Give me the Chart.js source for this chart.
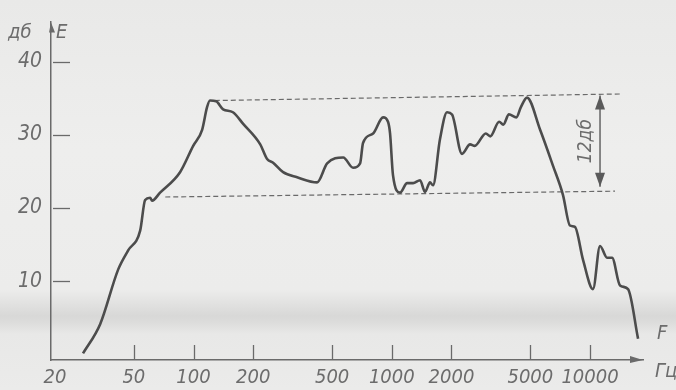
<!DOCTYPE html>
<html>
<head>
<meta charset="utf-8">
<script src="https://cdn.jsdelivr.net/npm/chart.js@4.4.1/dist/chart.umd.min.js"></script>
<style>
  html,body{margin:0;padding:0;background:#ebebea;}
  #wrap{width:676px;height:390px;position:relative;
    background:linear-gradient(to bottom,#e9e9e8 0px,#eeeeed 150px,#ececeb 290px,#d8d8d7 316px,#dcdcdb 322px,#e8e8e7 334px,#ebebea 390px);}
  canvas{display:block;}
</style>
</head>
<body>
<div id="wrap"><canvas id="c" width="676" height="390"></canvas></div>
<script>
// ---- data ----
const freqs  = [27.7,33.8,41.7,46.8,53.8,57.0,60.4,61.8,67.8,85.5,99.6,110.5,117,121,130,141,158,178,217,235,252,283,333,420,472,569,638,692,716,805,904,957,980,1014,1101,1195,1281,1389,1471,1559,1614,1750,1900,2013,2260,2483,2620,2980,3140,3480,3650,3900,4250,4480,4810,5600,6500,7300,7920,8390,9220,10350,11230,12180,12910,14170,15550,17470];
const levels = [0.1,4.1,11.6,14.2,16.9,21.1,21.4,21.0,22.1,24.9,28.5,30.7,33.8,34.7,34.6,33.5,33.1,31.5,28.7,26.7,26.2,24.9,24.2,23.5,26.1,26.9,25.5,26.1,28.9,30.2,32.4,31.8,30.2,24.5,22.1,23.4,23.4,23.8,22.2,23.5,23.1,29.4,33.1,32.8,27.4,28.7,28.5,30.2,29.8,31.8,31.4,32.8,32.4,33.8,35.1,30.7,25.8,21.8,17.6,17.4,12.9,8.9,14.8,13.2,13.2,9.4,8.9,2.1];

const topDashF = [128, 14500];
const topDashL = [34.7, 35.6];
const botDashF = [72, 13370];
const botDashL = [21.5, 22.3];

const arrowF = [11230, 11230];
const arrowL = [35.4, 22.9];
const arrowLabel = '12дб';

const xTickVals   = [20,50,100,200,500,1000,2000,5000,10000];
const xTickLabels = ['20','50','100','200','500','1000','2000','5000','10000'];
const xTickMarks  = [50,100,200,500,1000,2000,5000,10000];
const yTickVals   = [10,20,30,40];
const yTickLabels = ['10','20','30','40'];

const yUnit = 'дб', yName = 'E', xName = 'F', xUnit = 'Гц';

// ---- styles ----
const INK = '#4c4c4c', AXIS = '#6a6a6a', TXT = '#6c6c6c';
const FONT = '"Liberation Sans Narrow","DejaVu Sans Condensed",sans-serif';

const pts = (fs, ls) => fs.map((f,i)=>({x:f,y:ls[i]}));

const decor = {
  id:'decor',
  afterDraw(chart){
    const {ctx, chartArea:a, scales:{x,y}} = chart;
    ctx.save();
    ctx.strokeStyle = AXIS; ctx.fillStyle = AXIS; ctx.lineWidth = 1.3;
    const line=(x1,y1,x2,y2)=>{ctx.beginPath();ctx.moveTo(x1,y1);ctx.lineTo(x2,y2);ctx.stroke();};
    xTickMarks.forEach(v=>{const px=Math.round(x.getPixelForValue(v))+0.5; line(px,a.bottom,px,a.bottom-15);});
    yTickVals.forEach(v=>{const py=Math.round(y.getPixelForValue(v))+0.5; line(a.left+2,py,a.left+19,py);});
    // axis arrowheads
    ctx.beginPath(); ctx.moveTo(a.right,a.bottom); ctx.lineTo(a.right-13,a.bottom-4); ctx.lineTo(a.right-13,a.bottom+3); ctx.closePath(); ctx.fill();
    ctx.beginPath(); ctx.moveTo(a.left,a.top+1); ctx.lineTo(a.left+4,a.top+11); ctx.lineTo(a.left-2,a.top+11); ctx.closePath(); ctx.fill();
    // 12 dB arrow
    const ax = x.getPixelForValue(arrowF[0]);
    const y1 = y.getPixelForValue(arrowL[0]), y2 = y.getPixelForValue(arrowL[1]);
    ctx.strokeStyle = '#5a5a5a'; ctx.fillStyle = '#5a5a5a'; ctx.lineWidth = 1.4;
    line(ax,y1,ax,y2);
    ctx.beginPath(); ctx.moveTo(ax,y1); ctx.lineTo(ax-5,y1+14); ctx.lineTo(ax+5,y1+14); ctx.closePath(); ctx.fill();
    ctx.beginPath(); ctx.moveTo(ax,y2); ctx.lineTo(ax-5,y2-14); ctx.lineTo(ax+5,y2-14); ctx.closePath(); ctx.fill();
    // texts
    ctx.fillStyle = TXT;
    ctx.font = 'italic 19px ' + FONT;
    ctx.textBaseline = 'middle';
    ctx.save(); ctx.translate(ax-14,(y1+y2)/2); ctx.rotate(-Math.PI/2); ctx.textAlign='center'; ctx.fillText(arrowLabel,0,0); ctx.restore();
    ctx.textAlign = 'left';
    ctx.font = 'italic 20px ' + FONT;
    ctx.fillText(yUnit, a.left-43, a.top+11);
    ctx.fillText(yName, a.left+5, a.top+11);
    ctx.fillText(xName, a.right+14, a.bottom-26);
    ctx.fillText(xUnit, a.right+12, a.bottom+12);
    ctx.restore();
  }
};

new Chart(document.getElementById('c'), {
  type:'line',
  data:{datasets:[
    {data:pts(freqs,levels), borderColor:INK, borderWidth:2.6, pointRadius:0, tension:0.3, cubicInterpolationMode:'monotone', fill:false},
    {data:pts(topDashF,topDashL), borderColor:'#6a6a6a', borderWidth:1.2, borderDash:[5,3], pointRadius:0},
    {data:pts(botDashF,botDashL), borderColor:'#6a6a6a', borderWidth:1.2, borderDash:[5,3], pointRadius:0}
  ]},
  options:{
    responsive:false, animation:false, devicePixelRatio:1,
    layout:{padding:{left:0,right:33,top:12,bottom:0}},
    plugins:{legend:{display:false}, tooltip:{enabled:false}},
    scales:{
      x:{type:'logarithmic', min:19.1, max:18500,
        afterBuildTicks:s=>{s.ticks = xTickVals.map(v=>({value:v}));},
        afterFit:s=>{s.height = 30;},
        ticks:{autoSkip:false, maxRotation:0, padding:6, color:TXT,
          font:{family:FONT, size:20, style:'italic'},
          callback:(v,i)=>xTickLabels[i]},
        grid:{drawOnChartArea:false, drawTicks:false},
        border:{color:AXIS, width:1.5}},
      y:{type:'linear', min:-0.8, max:45.5,
        afterBuildTicks:s=>{s.ticks = yTickVals.map(v=>({value:v}));},
        afterFit:s=>{s.width = 51;},
        ticks:{padding:9, color:TXT, font:{family:FONT, size:21, style:'italic'},
          callback:(v,i)=>yTickLabels[i]},
        grid:{drawOnChartArea:false, drawTicks:false},
        border:{color:AXIS, width:1.5}}
    }
  },
  plugins:[decor]
});
</script>
</body>
</html>
